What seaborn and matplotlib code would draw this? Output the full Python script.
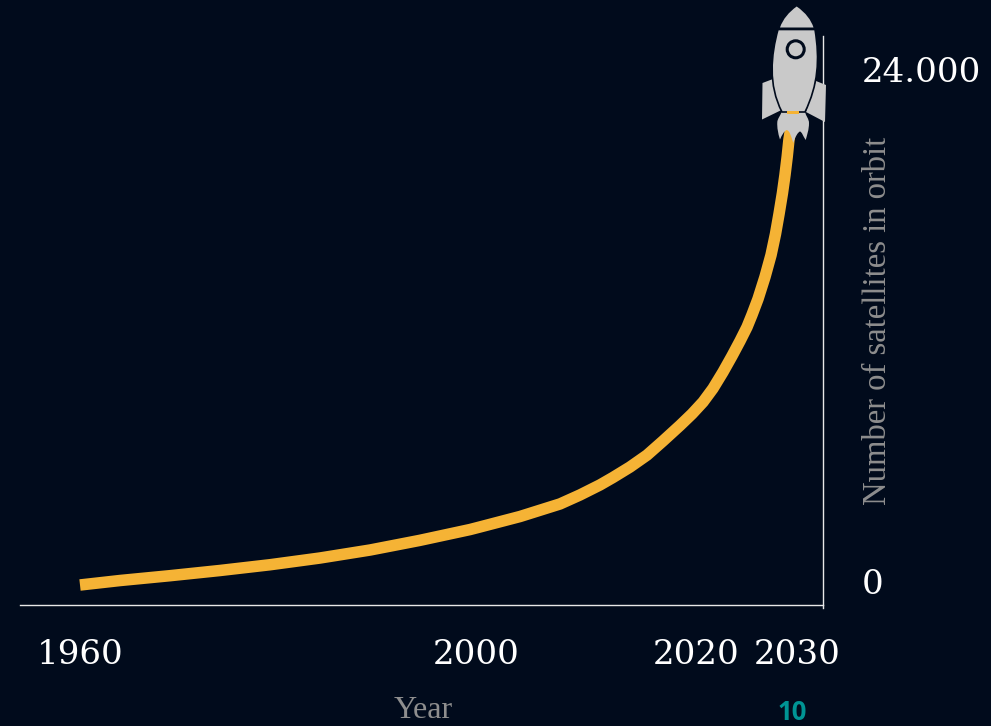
import numpy as np
import pandas as pd
import matplotlib
matplotlib.use("Agg")
import matplotlib.pyplot as plt
import seaborn as sns
from matplotlib.path import Path
from matplotlib.patches import PathPatch, Circle
from matplotlib.transforms import Affine2D, ScaledTranslation

years = [1960, 1964.04, 1969.09, 1974.14, 1979.2, 1984.24, 1989.3, 1994.3, 1999.4, 2000.36, 2004.0, 2007.64,
         2009.45, 2011.27, 2012.45, 2014.0, 2015.55, 2017.0, 2018.55, 2019.64, 2020.7, 2021.68, 2022.67, 2023.56,
         2024.36, 2025.05, 2025.54, 2026.14, 2026.83, 2027.43, 2027.87, 2028.22, 2028.56, 2028.81, 2029.03,
         2029.2, 2029.31, 2029.41]
satellites = [0, 210, 436, 680, 950, 1265, 1640, 2090, 2600, 2720, 3210, 3800,
              4220, 4690, 5040, 5530, 6090, 6750, 7480, 8020, 8580, 9210, 9980, 10730,
              11440, 12090, 12660, 13410, 14440, 15470, 16450, 17390, 18375, 19220, 20080,
              20860, 21190, 21800]
x_ticks = [1960, 2000, 2020, 2030]
x_tick_labels = ["1960", "2000", "2020", "2030"]
y_ticks = [0, 24000]
y_tick_labels = ["0", "24.000"]

BG = "#010b1c"
YEL = "#f5b335"
GREY = "#c9c9c9"
W, H = 991, 726

sns.set_theme(style="dark", rc={"axes.facecolor": BG, "figure.facecolor": BG, "savefig.facecolor": BG})
fig = plt.figure(figsize=(W / 100, H / 100), dpi=100)
ax = fig.add_axes([20 / W, 1 - 605 / H, (823 - 20) / W, (605 - 36) / H])

# the reference spaces its years unevenly: piecewise-linear year scale
scale_y = np.array([1950.0, 1960, 2000, 2020, 2030, 2040])
scale_p = np.array([-19.0, 80, 476, 696, 797, 898])
fwd = lambda v: np.interp(v, scale_y, scale_p)
inv = lambda v: np.interp(v, scale_p, scale_y)
ax.set_xscale("function", functions=(fwd, inv))

df = pd.DataFrame({"year": years, "satellites": satellites})
sns.lineplot(data=df, x="year", y="satellites", ax=ax, color=YEL, linewidth=8.3, zorder=5,
             solid_capstyle="butt", solid_joinstyle="round", estimator=None, clip_on=False)

ax.set_xlim(inv(20.0), inv(823.0))
# 46.875 satellites per pixel, zero 20 px above the bottom axis
ax.set_ylim(-937.5, 25734)
ax.grid(False)
for s in ("top", "left"):
    ax.spines[s].set_visible(False)
for s in ("bottom", "right"):
    ax.spines[s].set_color("#e8e8e8")
    ax.spines[s].set_linewidth(1.0)

ax.yaxis.tick_right()
ax.set_xticks(x_ticks, x_tick_labels)
ax.set_yticks(y_ticks, y_tick_labels)
ax.tick_params(axis="x", length=0, pad=24.5, labelsize=24.5, labelcolor="white", labelfontfamily="DejaVu Serif")
ax.tick_params(axis="y", length=0, pad=28, labelsize=24.5, labelcolor="white", labelfontfamily="DejaVu Serif")
ax.xaxis.minorticks_off()
up = ScaledTranslation(0, 3 / 100, fig.dpi_scale_trans)
for lab in ax.get_yticklabels():
    lab.set_ha("left")
    lab.set_transform(lab.get_transform() + up)

ax.set_xlabel("Year", family="Liberation Serif", fontsize=23, color="#8e8e8e")
ax.xaxis.set_label_coords((423 - 20) / (823 - 20), -(711 - 605) / (605 - 36), transform=ax.transAxes)
ax.xaxis.label.set_va("center")
ax.yaxis.set_label_position("right")
ax.set_ylabel("Number of satellites in orbit", family="Liberation Serif", fontsize=23.5, color="#8e8e8e", rotation=90)
ax.yaxis.set_label_coords((878 - 20) / (823 - 20), (605 - 321) / (605 - 36), transform=ax.transAxes)
ax.yaxis.label.set_va("center")
ax.yaxis.label.set_ha("center")

fig.text(792.5 / W, 1 - 720.5 / H, "10", family="Open Sans", fontweight="bold", fontsize=18.5, color="#009494",
         ha="center", va="baseline")

# rocket icon, drawn in picture pixels
px = Affine2D().scale(1 / W, -1 / H).translate(0, 1) + fig.transFigure
M, L, C, Z = Path.MOVETO, Path.LINETO, Path.CURVE4, Path.CLOSEPOLY


def shape(verts, codes, fc=GREY, ec="none", lw=0, z=10):
    fig.add_artist(PathPatch(Path(verts, codes), facecolor=fc, edgecolor=ec, linewidth=lw,
                             transform=px, clip_on=False, zorder=z))


# flame with its three points, over the end of the line
shape([(781.7, 112), (805, 112), (806, 116), (809, 119), (809, 123), (809, 130), (807, 135), (805.7, 140),
       (803, 136), (802, 132), (800, 131.5), (798, 132), (795, 137), (793.3, 143),
       (791, 136), (790, 131), (786.7, 130), (784, 131), (782, 135), (780, 139.5),
       (778, 133), (777, 128), (777.3, 122), (777.5, 119), (780, 116), (781.7, 112), (781.7, 112)],
      [M, L, C, C, C, C, C, C, C, C, C, C, C, C, C, C, C, C, C, C, C, C, C, C, C, C, Z], z=9)
# fins
shape([(762.5, 83), (773, 79), (781.5, 110), (762, 119.5), (762.5, 83)], [M, L, L, L, Z])
shape([(816, 81), (826, 85), (825, 122), (806, 112), (816, 81)], [M, L, L, L, Z])
# body
shape([(778, 29.5), (815, 29.5), (820, 60), (818, 85), (805, 112), (782, 112), (768, 85), (771, 55), (778, 29.5), (778, 29.5)],
      [M, L, C, C, C, L, C, C, C, Z], ec=BG, lw=1.2, z=12)
# nose
shape([(796.7, 6.5), (806, 13), (811, 20), (813.5, 27.5), (780, 27.5), (783, 19), (789, 12), (796.7, 6.5), (796.7, 6.5)],
      [M, C, C, C, L, C, C, C, Z], z=12)
# nozzle
shape([(787, 110.5), (799, 110.5), (799, 113.5), (787, 113.5), (787, 110.5)], [M, L, L, L, Z], fc=YEL, z=13)
fig.add_artist(Circle((795.7, 49.3), 8.5, facecolor="none", edgecolor=BG, linewidth=2.2, transform=px, zorder=13))
# small overshoot of the right axis line below the bottom axis
ax.spines["right"].set_bounds(-1060, 25734)

fig.savefig("out.png", dpi=100, facecolor=BG)
